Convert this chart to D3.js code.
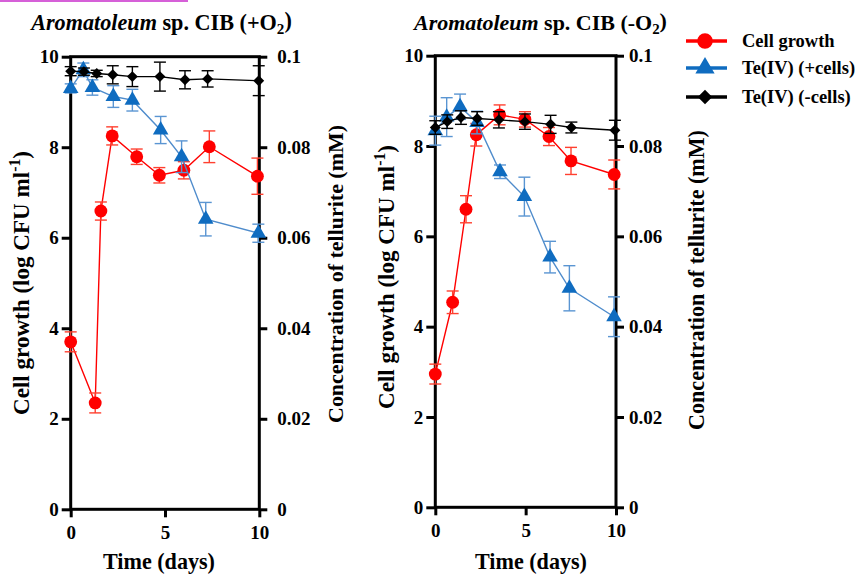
<!DOCTYPE html>
<html>
<head>
<meta charset="utf-8">
<script src="https://cdn.jsdelivr.net/npm/d3@7"></script>
<style>
  body { margin: 0; background: #fff; }
  text { font-family: "Liberation Serif", "Times New Roman", serif; font-weight: bold; fill: #000; }
</style>
</head>
<body>
<script>
// aerobic (+O2) panel
var aerobicGrowthDays = [0, 1.3, 1.6, 2.2, 3.5, 4.7, 6.0, 7.35, 9.9];
var aerobicGrowth     = [3.70, 2.35, 6.59, 8.25, 7.79, 7.38, 7.49, 8.01, 7.36];
var aerobicGrowthErr  = [0.22, 0.22, 0.2, 0.2, 0.17, 0.17, 0.19, 0.35, 0.4];

var aerobicTeCellsDays = [0, 0.67, 1.15, 2.26, 3.27, 4.77, 5.88, 7.16, 9.95];
var aerobicTeCells     = [0.0930, 0.0971, 0.0932, 0.0912, 0.0904, 0.0838, 0.0779, 0.0641, 0.0610];
var aerobicTeCellsErr  = [0.001, 0.0015, 0.0017, 0.0024, 0.0024, 0.003, 0.0035, 0.0037, 0.002];

var aerobicTeNoCellsDays = [0, 0.7, 1.38, 2.23, 3.27, 4.73, 6.06, 7.26, 9.97];
var aerobicTeNoCells     = [0.0968, 0.0967, 0.0963, 0.0960, 0.0956, 0.0956, 0.0949, 0.0951, 0.0947];
var aerobicTeNoCellsErr  = [0.001, 0.0008, 0.0007, 0.002, 0.0022, 0.0032, 0.002, 0.0018, 0.0033];

// anaerobic (-O2) panel
var anaerobicGrowthDays = [0, 0.96, 1.7, 2.27, 3.56, 4.96, 6.29, 7.51, 9.9];
var anaerobicGrowth     = [2.95, 4.54, 6.6, 8.25, 8.69, 8.59, 8.21, 7.67, 7.37];
var anaerobicGrowthErr  = [0.22, 0.25, 0.3, 0.25, 0.22, 0.17, 0.2, 0.3, 0.32];

var anaerobicTeCellsDays = [0, 0.63, 1.37, 2.31, 3.58, 4.93, 6.35, 7.42, 9.89];
var anaerobicTeCells     = [0.0834, 0.0864, 0.0887, 0.0852, 0.0743, 0.0688, 0.0554, 0.0485, 0.0422];
var anaerobicTeCellsErr  = [0.0032, 0.0043, 0.0028, 0.0025, 0.0015, 0.0043, 0.0035, 0.005, 0.0044];

var anaerobicTeNoCellsDays = [0, 0.66, 1.42, 2.32, 3.52, 4.96, 6.38, 7.53, 9.94];
var anaerobicTeNoCells     = [0.0841, 0.0854, 0.0863, 0.0861, 0.0858, 0.0854, 0.0848, 0.0841, 0.0835];
var anaerobicTeNoCellsErr  = [0.0015, 0.0015, 0.0015, 0.0015, 0.0018, 0.0017, 0.002, 0.0012, 0.0022];

var timeTicks = [0, 5, 10];
var growthTicks = [0, 2, 4, 6, 8, 10];
var telluriteTicks = [0, 0.02, 0.04, 0.06, 0.08, 0.1];
var telluriteTickLabels = ["0", "0.02", "0.04", "0.06", "0.08", "0.1"];
var seriesNames = ["Cell growth", "Te(IV) (+cells)", "Te(IV) (-cells)"];

(function(){

  const W = 858, H = 574;
  const RED = "#ff0000", RED_ERR = "#ff4030";
  const BLUE = "#0f6cc0", BLUE_LINE = "#4f8ccc", BLUE_ERR = "#5a95d2";
  const BLACK = "#000";
  const CAP = 6;

  var svg = d3.select("body").append("svg")
    .attr("width", W).attr("height", H);

  // stray highlight stroke along the top edge
  svg.append("rect").attr("x", 0).attr("y", 0).attr("width", 188).attr("height", 2)
    .attr("fill", "#d660d8");

  var panels = [
    { x0: 70.7, x1: 259.3, top: 56.7, bottom: 509.3, o2: "+", rightPad: 10,
      title: [161.5, 263], xLabel: [159, 112],
      leftTitle: [29, 283, 264], rightTitle: [343, 274, 298],
      growth: [aerobicGrowthDays, aerobicGrowth, aerobicGrowthErr],
      cells: [aerobicTeCellsDays, aerobicTeCells, aerobicTeCellsErr],
      noCells: [aerobicTeNoCellsDays, aerobicTeNoCells, aerobicTeNoCellsErr] },
    { x0: 435.3, x1: 616, top: 55.7, bottom: 507.3, o2: "-", rightPad: 5,
      title: [540.5, 255], xLabel: [531, 112],
      leftTitle: [394, 277, 264], rightTitle: [704, 280, 300],
      growth: [anaerobicGrowthDays, anaerobicGrowth, anaerobicGrowthErr],
      cells: [anaerobicTeCellsDays, anaerobicTeCells, anaerobicTeCellsErr],
      noCells: [anaerobicTeNoCellsDays, anaerobicTeNoCells, anaerobicTeNoCellsErr] }
  ];

  // scale a label's font so it spans the given width
  function fit(sel, width){
    var w = sel.node().getBBox().width;
    sel.attr("font-size", +sel.attr("font-size") * width / w);
    return sel;
  }

  var circle = d3.symbol().type(d3.symbolCircle).size(130);
  var triangle = d3.symbol().type(d3.symbolTriangle).size(105);
  var diamond = d3.symbol().type(d3.symbolSquare).size(60);

  function zip(s){
    return s[0].map(function(t, i){ return { t: t, v: s[1][i], e: s[2][i] }; });
  }

  function drawSeries(g, x, y, rows, lineColor, errColor, markColor, symbol, rotate){
    g.append("path").datum(rows)
      .attr("fill", "none").attr("stroke", lineColor).attr("stroke-width", 1.4)
      .attr("d", d3.line().x(function(d){ return x(d.t); }).y(function(d){ return y(d.v); }));

    var eb = g.selectAll(null).data(rows).enter().append("g")
      .attr("stroke", errColor).attr("stroke-width", 1.4);
    eb.append("line")
      .attr("x1", function(d){ return x(d.t); }).attr("x2", function(d){ return x(d.t); })
      .attr("y1", function(d){ return y(d.v - d.e); }).attr("y2", function(d){ return y(d.v + d.e); });
    [1, -1].forEach(function(s){
      eb.append("line")
        .attr("x1", function(d){ return x(d.t) - CAP; }).attr("x2", function(d){ return x(d.t) + CAP; })
        .attr("y1", function(d){ return y(d.v + s * d.e); }).attr("y2", function(d){ return y(d.v + s * d.e); });
    });

    g.selectAll(null).data(rows).enter().append("path")
      .attr("d", symbol).attr("fill", markColor)
      .attr("transform", function(d){
        return "translate(" + x(d.t) + "," + y(d.v) + ")" + (rotate ? " rotate(45)" : "");
      });
  }

  panels.forEach(function(p){
    var x = d3.scaleLinear().domain([0, 10]).range([p.x0, p.x1]);
    var yL = d3.scaleLinear().domain([0, 10]).range([p.bottom, p.top]);
    var yR = d3.scaleLinear().domain([0, 0.1]).range([p.bottom, p.top]);

    var g = svg.append("g");

    // axes
    var ax = g.append("g").attr("transform", "translate(0," + p.bottom + ")")
      .call(d3.axisBottom(x).tickValues(timeTicks).tickSize(8).tickPadding(7).tickFormat(d3.format("d")));
    var ayl = g.append("g").attr("transform", "translate(" + p.x0 + ",0)")
      .call(d3.axisLeft(yL).tickValues(growthTicks).tickSize(9).tickPadding(3).tickFormat(d3.format("d")));
    var ayr = g.append("g").attr("transform", "translate(" + p.x1 + ",0)")
      .call(d3.axisRight(yR).tickValues(telluriteTicks).tickSize(8).tickPadding(p.rightPad)
        .tickFormat(function(d, i){ return telluriteTickLabels[i]; }));
    [ax, ayl, ayr].forEach(function(a){
      a.attr("font-family", null);
      a.select(".domain").remove();
      a.selectAll(".tick line").attr("stroke", BLACK).attr("stroke-width", 3);
      a.selectAll(".tick text").attr("font-size", 19);
    });
    ax.selectAll(".tick text").attr("dy", "0.75em");

    g.append("rect")
      .attr("x", p.x0).attr("y", p.top).attr("width", p.x1 - p.x0).attr("height", p.bottom - p.top)
      .attr("fill", "none").attr("stroke", BLACK).attr("stroke-width", 3);

    // data
    drawSeries(g, x, yL, zip(p.growth), RED, RED_ERR, RED, circle, false);
    drawSeries(g, x, yR, zip(p.cells), BLUE_LINE, BLUE_ERR, BLUE, triangle, false);
    drawSeries(g, x, yR, zip(p.noCells), BLACK, BLACK, BLACK, diamond, true);

    // titles
    var t = g.append("text").attr("x", p.title[0]).attr("y", 30)
      .attr("text-anchor", "middle").attr("font-size", 21);
    t.append("tspan").attr("font-style", "italic").text("Aromatoleum");
    t.append("tspan").text(" sp. CIB (" + p.o2 + "O");
    t.append("tspan").attr("font-size", "0.68em").attr("dy", "0.25em").text("2");
    t.append("tspan").attr("dy", "-0.25em").text(")");
    fit(t, p.title[1]);

    fit(g.append("text").attr("x", p.xLabel[0]).attr("y", 569)
      .attr("text-anchor", "middle").attr("font-size", 21).text("Time (days)"), p.xLabel[1]);

    var lt = g.append("text").attr("text-anchor", "middle").attr("font-size", 20)
      .attr("transform", "translate(" + p.leftTitle[0] + "," + p.leftTitle[1] + ") rotate(-90)");
    lt.append("tspan").text("Cell growth (log CFU ml");
    lt.append("tspan").attr("font-size", "0.68em").attr("dy", "-0.6em").text("-1");
    lt.append("tspan").attr("dy", "0.4em").text(")");
    fit(lt, p.leftTitle[2]);

    fit(g.append("text").attr("text-anchor", "middle").attr("font-size", 20)
      .attr("transform", "translate(" + p.rightTitle[0] + "," + p.rightTitle[1] + ") rotate(-90)")
      .text("Concentration of tellurite (mM)"), p.rightTitle[2]);
  });

  // legend
  var legendRows = [
    { y: 41, color: RED, symbol: d3.symbol().type(d3.symbolCircle).size(190), rotate: false },
    { y: 68, color: BLUE, symbol: d3.symbol().type(d3.symbolTriangle).size(160), rotate: false },
    { y: 97, color: BLACK, symbol: d3.symbol().type(d3.symbolSquare).size(105), rotate: true }
  ];
  var lg = svg.append("g").selectAll("g").data(legendRows).enter().append("g")
    .attr("transform", function(d){ return "translate(0," + d.y + ")"; });
  lg.append("line").attr("x1", 686).attr("x2", 727).attr("y1", 0).attr("y2", 0)
    .attr("stroke", function(d){ return d.color; }).attr("stroke-width", 3.5);
  lg.append("path").attr("d", function(d){ return d.symbol(); }).attr("fill", function(d){ return d.color; })
    .attr("transform", function(d){ return "translate(705,0)" + (d.rotate ? " rotate(45)" : ""); });
  lg.append("text").attr("x", 742).attr("y", 6).attr("font-size", 18.5)
    .text(function(d, i){ return seriesNames[i]; });

})();
</script>
</body>
</html>
